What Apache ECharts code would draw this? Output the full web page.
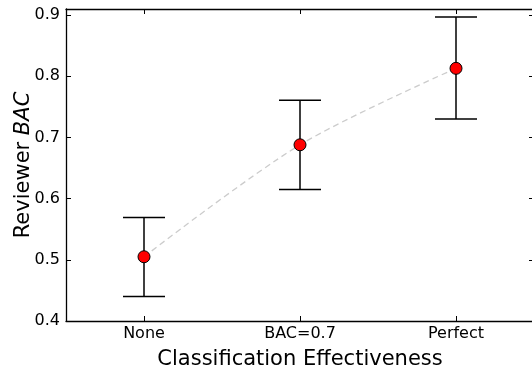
<!DOCTYPE html>
<html><head><meta charset="utf-8">
<script src="https://cdn.jsdelivr.net/npm/echarts@6/dist/echarts.min.js"></script>
<style>html,body{margin:0;padding:0;background:#fff;overflow:hidden}#c{width:532px;height:370px}</style>
</head><body><div id="c"></div>
<script>
var categories = ['None', 'BAC=0.7', 'Perfect'];
var means = [0.505, 0.688, 0.813];
var lowers = [0.440, 0.615, 0.730];
var uppers = [0.569, 0.761, 0.897];
var yTicks = [0.4, 0.5, 0.6, 0.7, 0.8, 0.9];

var chart = echarts.init(document.getElementById('c'), null, {renderer: 'canvas'});
var font = 'DejaVu Sans';
var errData = categories.map(function (c, i) { return [i, lowers[i], uppers[i]]; });
chart.setOption({
  animation: false,
  grid: {left: 66, top: 9, width: 468, height: 312, containLabel: false, outerBoundsMode: 'none'},
  xAxis: [{
    type: 'category', data: categories, position: 'bottom', boundaryGap: true,
    axisLine: {show: true, lineStyle: {color: '#000', width: 1.3}},
    axisTick: {show: true, inside: true, length: 5, alignWithLabel: true, lineStyle: {color: '#000'}},
    axisLabel: {color: '#000', fontFamily: font, fontSize: 16, margin: 5},
    name: 'Classification Effectiveness', nameLocation: 'middle', nameGap: 28, nameMoveOverlap: false,
    nameTextStyle: {color: '#000', fontFamily: font, fontSize: 21},
    splitLine: {show: false}
  }, {
    type: 'category', data: categories, position: 'top', boundaryGap: true,
    axisLine: {show: true, lineStyle: {color: '#000', width: 1.3}},
    axisTick: {show: true, inside: true, length: 5, alignWithLabel: true, lineStyle: {color: '#000'}},
    axisLabel: {show: false}, splitLine: {show: false}
  }],
  yAxis: [{
    type: 'value', min: 0.4, max: 0.91, interval: 0.1, position: 'left',
    axisLine: {show: true, lineStyle: {color: '#000', width: 1.3}},
    axisTick: {show: true, inside: true, length: 5, lineStyle: {color: '#000'}},
    axisLabel: {color: '#000', fontFamily: font, fontSize: 16, margin: 6,
      formatter: function (v) { return yTicks.some(function(t){return Math.abs(t-v)<1e-6;}) ? v.toFixed(1) : ''; }},
    splitLine: {show: false},
    name: '{n|Reviewer }{i|BAC}', nameLocation: 'middle', nameGap: 32, nameRotate: 90, nameMoveOverlap: false,
    nameTextStyle: {rich: {
      n: {color: '#000', fontFamily: font, fontSize: 21},
      i: {color: '#000', fontFamily: font, fontSize: 21, fontStyle: 'italic'}
    }}
  }, {
    type: 'value', min: 0.4, max: 0.91, interval: 0.1, position: 'right',
    axisLine: {show: false},
    axisTick: {show: true, inside: true, length: 5, lineStyle: {color: '#000'}},
    axisLabel: {show: false}, splitLine: {show: false}
  }],
  series: [{
    type: 'line', data: means, smooth: 0.3, symbol: 'none', z: 1,
    lineStyle: {color: '#cccccc', width: 1.3, type: [6, 4]}
  }, {
    type: 'custom', z: 2,
    renderItem: function (params, api) {
      var x = api.value(0);
      var lo = api.coord([x, api.value(1)]);
      var hi = api.coord([x, api.value(2)]);
      var hw = 21;
      var st = {stroke: '#000', lineWidth: 1.5};
      return {type: 'group', children: [
        {type: 'line', shape: {x1: lo[0], y1: lo[1], x2: hi[0], y2: hi[1]}, style: st},
        {type: 'line', shape: {x1: lo[0]-hw, y1: lo[1], x2: lo[0]+hw, y2: lo[1]}, style: st},
        {type: 'line', shape: {x1: hi[0]-hw, y1: hi[1], x2: hi[0]+hw, y2: hi[1]}, style: st}
      ]};
    },
    encode: {x: 0, y: [1, 2]},
    data: errData
  }, {
    type: 'scatter', data: means, symbol: 'circle', symbolSize: 12, z: 3,
    itemStyle: {color: '#ff0000', borderColor: '#000', borderWidth: 1, opacity: 1}
  }]
});
</script></body></html>
